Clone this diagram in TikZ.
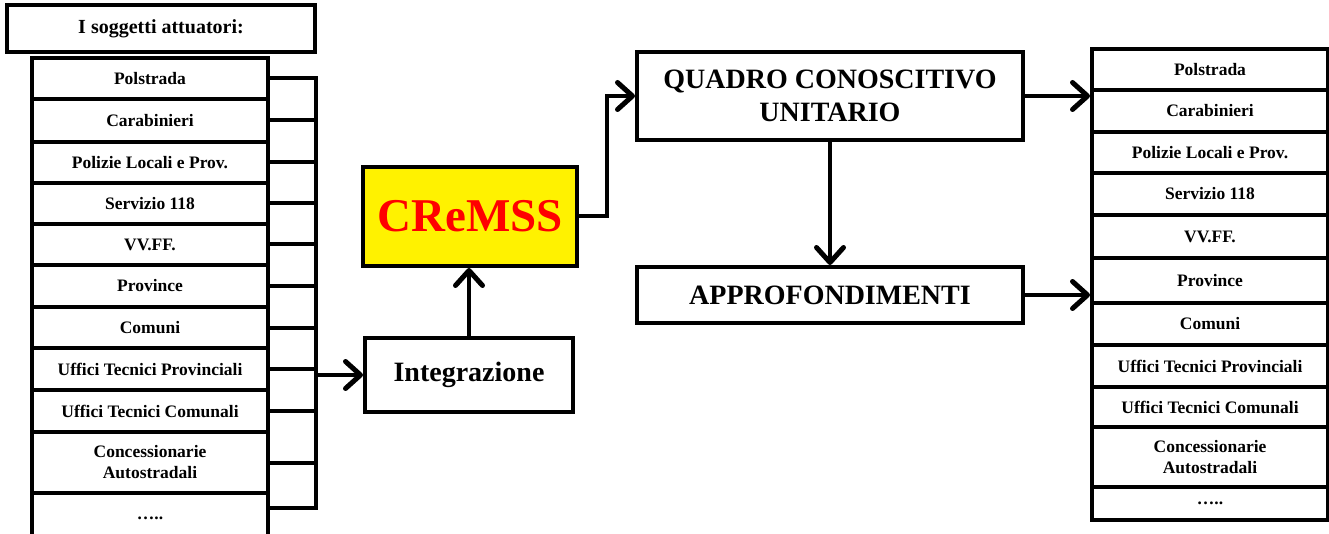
\documentclass[tikz,border=0pt]{standalone}
\usepackage{fontspec}
\setmainfont{Liberation Serif}
\usetikzlibrary{arrows.meta,calc}
\newcommand\mybox[7]{\node[#2, minimum width={(#5-#3)*1pt}, minimum height={(#6-#4)*1pt}] (#1) at ({(#3+#5)/2},{(#4+#6)/2}) {#7};}
\begin{document}
\begin{tikzpicture}[x=1pt,y=-1pt,
  box/.style={draw, line width=4pt, inner sep=0pt, outer sep=0pt, align=center},
  small/.style={box, font=\fontsize{17.5}{21}\selectfont\bfseries},
  title/.style={box, font=\fontsize{20}{24}\selectfont\bfseries},
  big/.style={box, font=\fontsize{28}{33}\selectfont\bfseries},
  conn/.style={line width=4pt, line cap=rect, line join=miter},
  arr/.style={line width=4pt, line join=miter, shorten >=2pt, -{Straight Barb[length=15pt,width=27pt,line width=5pt,round]}}]
\useasboundingbox (0,0) rectangle (1329,534);

% title
\mybox{t}{title}{7}{5}{315}{52}{I soggetti attuatori:}

% left column
\mybox{l1}{small}{32}{58}{268}{99}{Polstrada}
\mybox{l2}{small}{32}{99}{268}{142}{Carabinieri}
\mybox{l3}{small}{32}{142}{268}{183}{Polizie Locali e Prov.}
\mybox{l4}{small}{32}{183}{268}{224}{Servizio 118}
\mybox{l5}{small}{32}{224}{268}{265}{VV.FF.}
\mybox{l6}{small}{32}{265}{268}{307}{Province}
\mybox{l7}{small}{32}{307}{268}{348}{Comuni}
\mybox{l8}{small}{32}{348}{268}{390}{Uffici Tecnici Provinciali}
\mybox{l9}{small}{32}{390}{268}{432}{Uffici Tecnici Comunali}
\mybox{l10}{small}{32}{432}{268}{493}{Concessionarie\\Autostradali}
\mybox{l11}{small}{32}{493}{268}{543}{…..}

% bus
\coordinate (bx) at (316,0);
\foreach \i in {1,...,10}{
  \draw[conn] (l\i.east) -- (l\i.east -| bx);
}
\draw[conn] ([yshift=10pt]l11.east) -- ([yshift=10pt]l11.east -| bx);
\draw[conn] (l1.east -| bx) -- ([yshift=10pt]l11.east -| bx);

% centre
\mybox{integ}{big}{365}{338}{573}{412}{Integrazione}
\mybox{cremss}{box, fill=yellow, text=red, font=\fontsize{47}{50}\selectfont\bfseries}{363}{167}{577}{266}{CReMSS}
\mybox{quadro}{big}{637}{52}{1023}{140}{QUADRO CONOSCITIVO\\UNITARIO}
\mybox{appr}{big}{637}{267}{1023}{323}{APPROFONDIMENTI}

\draw[arr] (integ.west -| bx) -- (integ.west);
\draw[arr] (integ.north) -- (integ.north |- cremss.south);
\draw[arr] (cremss.east) -- ++(30pt,0) |- (quadro.west);
\draw[arr] (quadro.south) -- (appr.north);

% right column
\mybox{r1}{small}{1092}{49}{1328}{90}{Polstrada}
\mybox{r2}{small}{1092}{90}{1328}{132}{Carabinieri}
\mybox{r3}{small}{1092}{132}{1328}{173}{Polizie Locali e Prov.}
\mybox{r4}{small}{1092}{173}{1328}{215}{Servizio 118}
\mybox{r5}{small}{1092}{215}{1328}{258}{VV.FF.}
\mybox{r6}{small}{1092}{258}{1328}{303}{Province}
\mybox{r7}{small}{1092}{303}{1328}{345}{Comuni}
\mybox{r8}{small}{1092}{345}{1328}{387}{Uffici Tecnici Provinciali}
\mybox{r9}{small}{1092}{387}{1328}{427}{Uffici Tecnici Comunali}
\mybox{r10}{small}{1092}{427}{1328}{487}{Concessionarie\\Autostradali}
\mybox{r11}{small}{1092}{487}{1328}{520}{…..}

\draw[arr] (quadro.east) -- (quadro.east -| r1.west);
\draw[arr] (appr.east) -- (appr.east -| r1.west);
\end{tikzpicture}
\end{document}
